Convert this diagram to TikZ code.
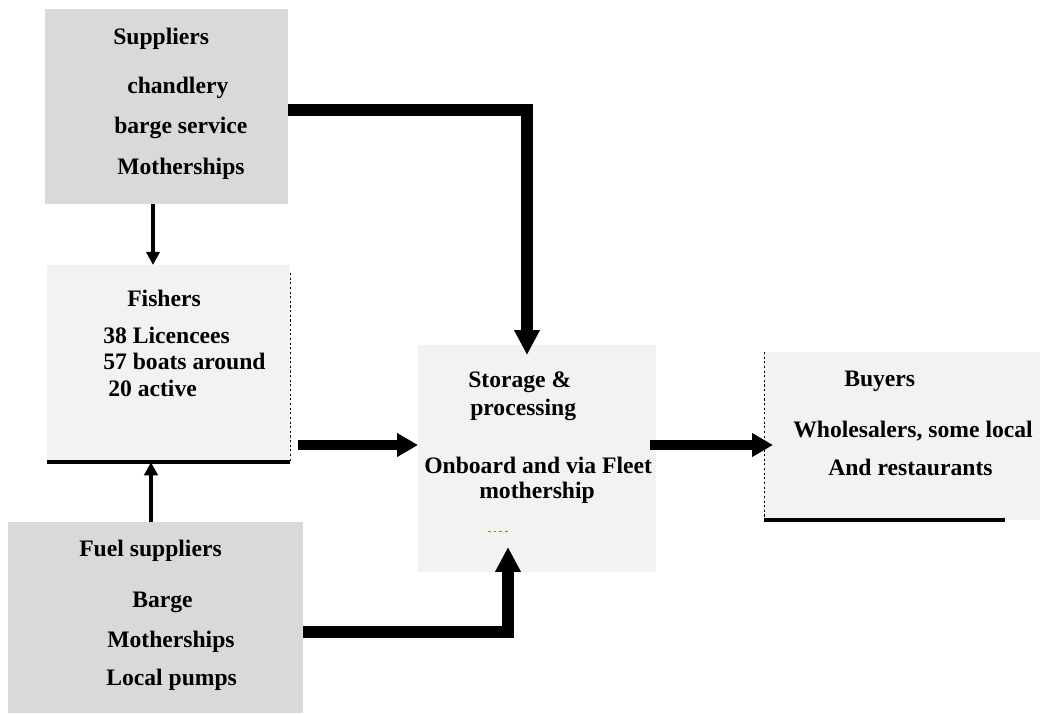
\documentclass[tikz,border=0pt]{standalone}
\usepackage{fontspec}
\setmainfont{Liberation Serif}
\usetikzlibrary{arrows.meta}

\definecolor{boxdark}{HTML}{D9D9D9}
\definecolor{boxlight}{HTML}{F2F2F2}

\tikzset{
  darkbox/.style={fill=boxdark, draw=none, inner sep=0pt, outer sep=0pt, anchor=north west},
  lightbox/.style={fill=boxlight, draw=none, inner sep=0pt, outer sep=0pt, anchor=north west},
  txt/.style={anchor=west, inner sep=0pt, font=\bfseries\fontsize{16.8}{20}\selectfont},
  edgeline/.style={line width=0.7pt, dash pattern=on 1.5pt off 1.8pt},
  thinarrow/.style={line width=0.1cm, -{Triangle[width=0.33cm,length=0.33cm]}},
  midarrow/.style={line width=0.23cm, -{Triangle[width=0.56cm,length=0.52cm]}},
  fatarrow/.style={line width=0.28cm, -{Triangle[width=0.6cm,length=0.62cm]}}
}

\begin{document}
\begin{tikzpicture}[x=0.025cm, y=-0.025cm]
\useasboundingbox (0,0) rectangle (1040,713);

% draw the boxes
\node[darkbox, minimum width=6.075cm, minimum height=4.875cm] (supp) at (45,9) {};
\node[lightbox, minimum width=6.075cm, minimum height=4.925cm] (fish) at (47,265) {};
\node[darkbox, minimum width=7.375cm, minimum height=4.775cm] (fuel) at (8,522) {};
\node[lightbox, minimum width=5.95cm, minimum height=5.675cm] (stor) at (418,345) {};
\node[lightbox, minimum width=6.9cm, minimum height=4.2cm] (buy) at (764,352) {};

% draw box edges
\draw[edgeline] ([yshift=-0.2cm]fish.north east) -- (fish.south east);
\draw[line width=0.1cm] (fish.south west) -- (fish.south east);
\draw[edgeline] (buy.north west) -- (buy.south west);
\draw[line width=0.1cm] (buy.south west) -- ([xshift=-0.875cm]buy.south east);

% suppliers
\node[txt] (supp-h) at (113,39) {Suppliers};
\node[txt] (supp-a) at (127,88) {chandlery};
\node[txt] (supp-b) at (114,128) {barge service};
\node[txt] (supp-c) at (117,169) {Motherships};

% fishers
\node[txt] (fish-h) at (127,298) {Fishers};
\node[txt] (fish-a) at (103,335) {38 Licencees};
\node[txt] (fish-b) at (103,361) {57 boats around};
\node[txt] (fish-c) at (108,388) {20 active};

% fuel suppliers
\node[txt] (fuel-h) at (79,551) {Fuel suppliers};
\node[txt] (fuel-a) at (132,602) {Barge};
\node[txt] (fuel-b) at (107,642) {Motherships};
\node[txt] (fuel-c) at (106,680) {Local pumps};

% storage
\node[txt] (stor-h) at (468,382) {Storage \&};
\node[txt] (stor-a) at (470,410) {processing};
\node[txt] (stor-b) at (424,465) {Onboard and via Fleet};
\node[txt] (stor-c) at (479,493) {mothership};
\draw[olive, line width=0.5pt, dash pattern=on 2pt off 2pt] (488,531) -- (508,531);

% buyers
\node[txt] (buy-h) at (844,381) {Buyers};
\node[txt] (buy-a) at (793,431) {Wholesalers, some local};
\node[txt] (buy-b) at (828,467) {And restaurants};

% arrow positions
\coordinate (a1) at (153,0);
\coordinate (a2) at (151,0);
\coordinate (a3) at (0,445);
\coordinate (a0) at (0,110);
\coordinate (a6) at (0,632);
\coordinate (tip1) at (527,355);
\coordinate (tip2) at (508,547);

% draw arrows
\draw[thinarrow] (supp.south -| a1) -- (fish.north -| a1);
\draw[thinarrow] (fuel.north -| a2) -- (fish.south -| a2);
\draw[midarrow, shorten <=0.2cm] (fish.east |- a3) -- (stor.west |- a3);
\draw[midarrow, shorten <=-0.15cm, shorten >=-0.225cm] (stor.east |- a3) -- (buy.west |- a3);
\draw[fatarrow] (supp.east |- a0) -| (tip1);
\draw[fatarrow] (fuel.east |- a6) -| (tip2);
\end{tikzpicture}
\end{document}
